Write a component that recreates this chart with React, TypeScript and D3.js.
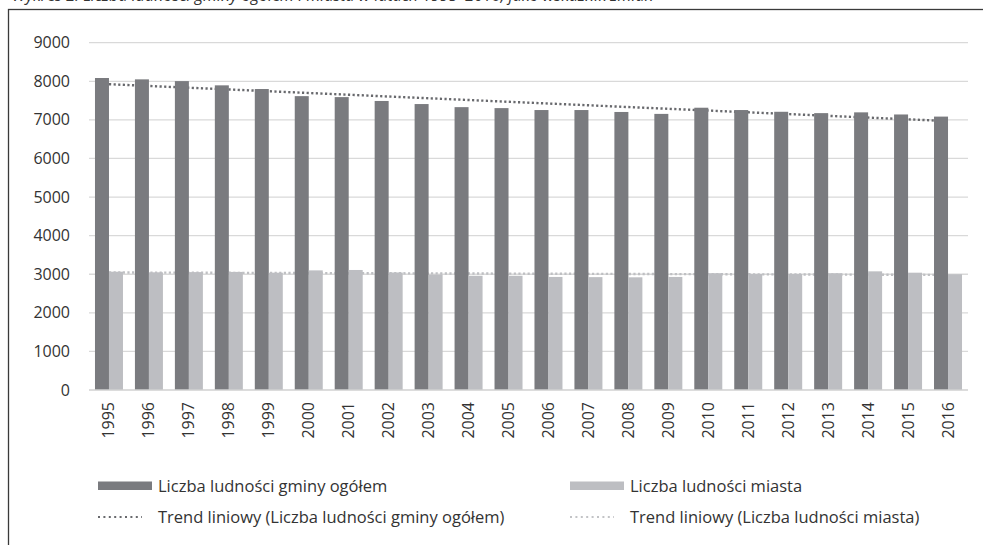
import { useEffect, useRef } from "react";
import * as d3 from "d3";

const years = [
  "1995", "1996", "1997", "1998", "1999", "2000", "2001", "2002", "2003", "2004", "2005",
  "2006", "2007", "2008", "2009", "2010", "2011", "2012", "2013", "2014", "2015", "2016",
];
const gmina = [
  8085, 8050, 8005, 7895, 7800, 7615, 7590, 7490, 7410, 7330, 7305,
  7255, 7255, 7205, 7155, 7315, 7255, 7210, 7175, 7195, 7140, 7085,
];
const miasto = [
  3065, 3050, 3055, 3060, 3040, 3100, 3110, 3045, 2990, 2960, 2960,
  2930, 2925, 2920, 2930, 3025, 3005, 3005, 3025, 3075, 3040, 3000,
];
const yTicks = [0, 1000, 2000, 3000, 4000, 5000, 6000, 7000, 8000, 9000];
const seriesNames = ["Liczba ludności gminy ogółem", "Liczba ludności miasta"];
const trendNames = [
  "Trend liniowy (Liczba ludności gminy ogółem)",
  "Trend liniowy (Liczba ludności miasta)",
];

const DARK = "#7a7b7f";
const LIGHT = "#bdbec2";
const TEXT = "#333333";
const FONT = "'Open Sans', sans-serif";

// least squares line over category index
function trend(vals: number[]) {
  const n = vals.length;
  const xs = vals.map((_, i) => i);
  const mx = d3.mean(xs)!;
  const my = d3.mean(vals)!;
  const num = d3.sum(xs, (x, i) => (x - mx) * (vals[i] - my));
  const den = d3.sum(xs, (x) => (x - mx) * (x - mx));
  const b = num / den;
  const a = my - b * mx;
  return [0, n - 1].map((i) => ({ i, v: a + b * i }));
}

export default function App() {
  const ref = useRef<SVGSVGElement>(null);

  useEffect(() => {
    const svg = d3.select(ref.current);
    svg.selectAll("*").remove();

    const left = 89, right = 968, top = 42.7, bottom = 390;

    // caption above the frame, cut by the top edge as in the source
    svg.append("text")
      .attr("x", 12).attr("y", 1)
      .attr("font-family", FONT).attr("font-size", 16).attr("font-style", "italic")
      .attr("fill", TEXT)
      .text("Wykres 2. Liczba ludności gminy ogółem i miasta w latach 1995–2016, jako wskaźnik zmian");

    // frame
    svg.append("rect")
      .attr("x", 8.5).attr("y", 9.5).attr("width", 1000).attr("height", 600)
      .attr("fill", "none").attr("stroke", "#3a3a3a").attr("stroke-width", 1.3);

    const x = d3.scaleBand().domain(years).range([left, right]).paddingInner(0).paddingOuter(0);
    const y = d3.scaleLinear().domain([0, 9000]).range([bottom, top]);
    const bw = 14;

    // grid
    svg.append("g").selectAll("line").data(yTicks.filter((t) => t > 0)).enter().append("line")
      .attr("x1", left).attr("x2", right)
      .attr("y1", (d) => y(d)).attr("y2", (d) => y(d))
      .attr("stroke", "#d9d9d9").attr("stroke-width", 1.3);

    svg.append("g").selectAll("text").data(yTicks).enter().append("text")
      .attr("x", 70).attr("y", (d) => y(d) + 5.5)
      .attr("text-anchor", "end")
      .attr("font-family", FONT).attr("font-size", 16).attr("fill", TEXT)
      .text((d) => d);

    // trend lines (behind bars)
    const cx = (i: number) => x(years[i])! + x.bandwidth() / 2;
    const line = d3.line<{ i: number; v: number }>().x((d) => cx(d.i)).y((d) => y(d.v));
    svg.append("path").attr("d", line(trend(gmina)))
      .attr("fill", "none").attr("stroke", "#68696d").attr("stroke-width", 2.4)
      .attr("stroke-dasharray", "2.2 2.4");
    svg.append("path").attr("d", line(trend(miasto)))
      .attr("fill", "none").attr("stroke", "#bfc0c3").attr("stroke-width", 2.4)
      .attr("stroke-dasharray", "2.2 2.4");

    // bars
    svg.append("g").selectAll("rect").data(gmina).enter().append("rect")
      .attr("x", (d, i) => cx(i) - bw).attr("y", (d) => y(d))
      .attr("width", bw).attr("height", (d) => bottom - y(d))
      .attr("fill", DARK);
    svg.append("g").selectAll("rect").data(miasto).enter().append("rect")
      .attr("x", (d, i) => cx(i)).attr("y", (d) => y(d))
      .attr("width", bw).attr("height", (d) => bottom - y(d))
      .attr("fill", LIGHT);

    // x axis
    svg.append("line")
      .attr("x1", left).attr("x2", right).attr("y1", bottom).attr("y2", bottom)
      .attr("stroke", "#d0d0d0").attr("stroke-width", 1.5);

    svg.append("g").selectAll("text").data(years).enter().append("text")
      .attr("transform", (d, i) => `translate(${cx(i) + 5.5},402) rotate(-90)`)
      .attr("text-anchor", "end")
      .attr("font-family", FONT).attr("font-size", 16).attr("fill", TEXT)
      .text((d) => d);

    // legend
    const cols = [{ sx: 98, tx: 158 }, { sx: 570, tx: 630 }];
    const colors = [DARK, LIGHT];
    const trendColors = ["#68696d", "#c2c3c6"];
    cols.forEach((c, k) => {
      svg.append("rect").attr("x", c.sx).attr("y", 481.5).attr("width", 54).attr("height", 8.5)
        .attr("fill", colors[k]);
      svg.append("text").attr("x", c.tx).attr("y", 491.5)
        .attr("font-family", FONT).attr("font-size", 16.5).attr("fill", TEXT)
        .text(seriesNames[k]);
      svg.append("line").attr("x1", c.sx).attr("x2", c.sx + 44).attr("y1", 517).attr("y2", 517)
        .attr("stroke", trendColors[k]).attr("stroke-width", 2.2).attr("stroke-dasharray", "2 3.4");
      svg.append("text").attr("x", c.tx).attr("y", 522.5)
        .attr("font-family", FONT).attr("font-size", 16.5).attr("fill", TEXT)
        .text(trendNames[k]);
    });
  }, []);

  return (
    <svg
      ref={ref}
      width={983}
      height={545}
      style={{ position: "absolute", left: 0, top: 0, background: "#fff" }}
    />
  );
}
